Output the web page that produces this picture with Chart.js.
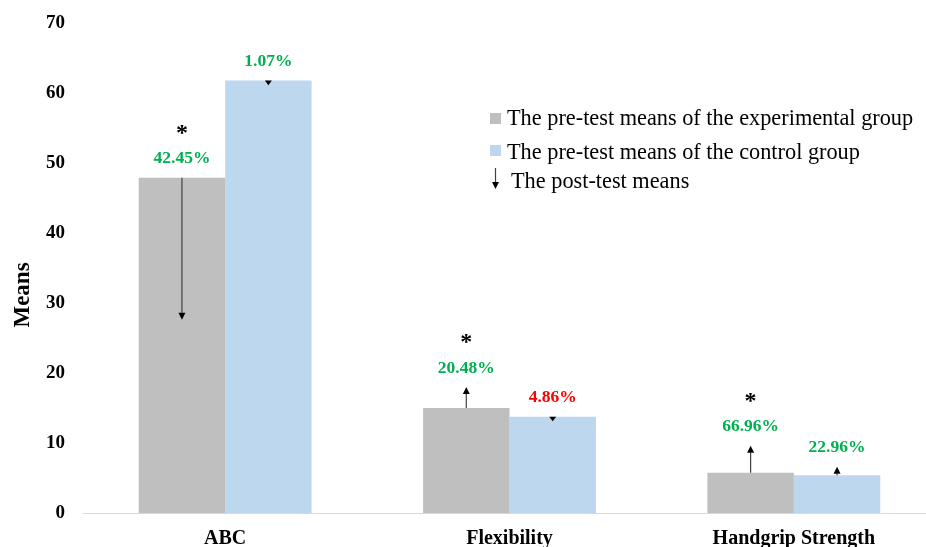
<!DOCTYPE html>
<html>
<head>
<meta charset="utf-8">
<script src="https://cdn.jsdelivr.net/npm/chart.js@4"></script>
<style>
  html, body { margin: 0; padding: 0; background: #fff; overflow: hidden; }
  #wrap { width: 936px; height: 547px; }
</style>
</head>
<body>
<div id="wrap"><canvas id="chart" width="936" height="547"></canvas></div>
<script>
// Pre/post means of the experimental and control groups
const categories = ['ABC', 'Flexibility', 'Handgrip Strength'];
const yTicks = [0, 10, 20, 30, 40, 50, 60, 70];

const expPre = [47.9, 15.0, 5.75];
const ctrlPre = [61.8, 13.75, 5.4];
const expPost = [27.6, 18.0, 9.6];
const ctrlPost = [61.1, 13.1, 6.6];

const expChange = ['42.45%', '20.48%', '66.96%'];
const ctrlChange = ['1.07%', '4.86%', '22.96%'];
const expImproved = [true, true, true];
const ctrlImproved = [true, false, true];
const expSignificant = [true, true, true];
const ctrlSignificant = [false, false, false];

const legendLabels = [
  'The pre-test means of the experimental group',
  'The pre-test means of the control group',
  'The post-test means'
];

const SERIF = "'Liberation Serif', 'Times New Roman', serif";
const GREY = '#bfbfbf';
const BLUE = '#bdd7ee';

function drawArrow(ctx, x, y0, y1) {
  const dir = y1 > y0 ? 1 : -1;
  const head = Math.min(7, Math.abs(y1 - y0));
  ctx.save();
  ctx.strokeStyle = '#404040';
  ctx.lineWidth = 1.2;
  ctx.beginPath();
  ctx.moveTo(x, y0);
  ctx.lineTo(x, y1 - dir * head);
  ctx.stroke();
  ctx.fillStyle = '#000';
  ctx.beginPath();
  ctx.moveTo(x, y1);
  ctx.lineTo(x - 3.5, y1 - dir * head);
  ctx.lineTo(x + 3.5, y1 - dir * head);
  ctx.closePath();
  ctx.fill();
  ctx.restore();
}

// arrows, percentages, asterisks, the legend and the axis title
const annotate = {
  id: 'annotate',
  afterDatasetsDraw(chart) {
    const ctx = chart.ctx;
    const yScale = chart.scales.y;
    const groups = [
      { post: expPost, change: expChange, good: expImproved, star: expSignificant },
      { post: ctrlPost, change: ctrlChange, good: ctrlImproved, star: ctrlSignificant }
    ];
    groups.forEach((g, di) => {
      chart.getDatasetMeta(di).data.forEach((bar, i) => {
        const yPost = yScale.getPixelForValue(g.post[i]);
        drawArrow(ctx, bar.x, bar.y, yPost);
        const labelY = Math.min(bar.y, yPost) - 19;
        ctx.save();
        ctx.textAlign = 'center';
        ctx.textBaseline = 'middle';
        ctx.font = 'bold 17.5px ' + SERIF;
        ctx.fillStyle = g.good[i] ? '#00b050' : '#ff0000';
        ctx.fillText(g.change[i], bar.x, labelY);
        if (g.star[i]) {
          ctx.fillStyle = '#000';
          ctx.font = 'bold 24px ' + SERIF;
          ctx.fillText('*', bar.x, labelY - 25);
        }
        ctx.restore();
      });
    });
  },
  afterDraw(chart) {
    const ctx = chart.ctx;
    ctx.save();
    // y axis title
    ctx.translate(23, 295);
    ctx.rotate(-Math.PI / 2);
    ctx.font = 'bold 23px ' + SERIF;
    ctx.fillStyle = '#000';
    ctx.textAlign = 'center';
    ctx.textBaseline = 'middle';
    ctx.fillText('Means', 0, 0);
    ctx.restore();

    // legend
    const baselines = [124.5, 158.5, 187.5];
    ctx.save();
    ctx.fillStyle = GREY;
    ctx.fillRect(490, 113, 11, 11);
    ctx.fillStyle = BLUE;
    ctx.fillRect(490, 145, 11, 11);
    ctx.restore();
    drawArrow(ctx, 495.5, 168, 189);
    ctx.save();
    ctx.font = '22.3px ' + SERIF;
    ctx.fillStyle = '#000';
    ctx.textBaseline = 'alphabetic';
    legendLabels.forEach((t, i) => ctx.fillText(t, i === 2 ? 511 : 507, baselines[i]));
    ctx.restore();
  }
};

new Chart(document.getElementById('chart'), {
  type: 'bar',
  data: {
    labels: categories,
    datasets: [
      { label: legendLabels[0], data: expPre, backgroundColor: GREY },
      { label: legendLabels[1], data: ctrlPre, backgroundColor: BLUE }
    ]
  },
  options: {
    responsive: false,
    animation: false,
    layout: { padding: { top: 23, left: 0, right: 0, bottom: 0 } },
    datasets: { bar: { categoryPercentage: 0.608, barPercentage: 1 } },
    plugins: { legend: { display: false }, tooltip: { enabled: false } },
    scales: {
      x: {
        grid: { display: false, drawTicks: false },
        border: { display: true, color: '#d9d9d9', width: 1 },
        ticks: {
          color: '#000',
          padding: 14,
          maxRotation: 0,
          autoSkip: false,
          font: { family: SERIF, size: 20, weight: 'bold' }
        },
        afterFit(s) { s.height = 34; }
      },
      y: {
        min: 0,
        max: 70,
        grid: { display: false, drawTicks: false },
        border: { display: false },
        afterBuildTicks(s) { s.ticks = yTicks.map(v => ({ value: v })); },
        ticks: {
          color: '#000',
          padding: 18,
          font: { family: SERIF, size: 19, weight: 'bold' }
        },
        afterFit(s) {
          s.width = 83;
          s.paddingTop = 0;
          s.paddingBottom = 0;
        }
      }
    }
  },
  plugins: [annotate]
});
</script>
</body>
</html>
